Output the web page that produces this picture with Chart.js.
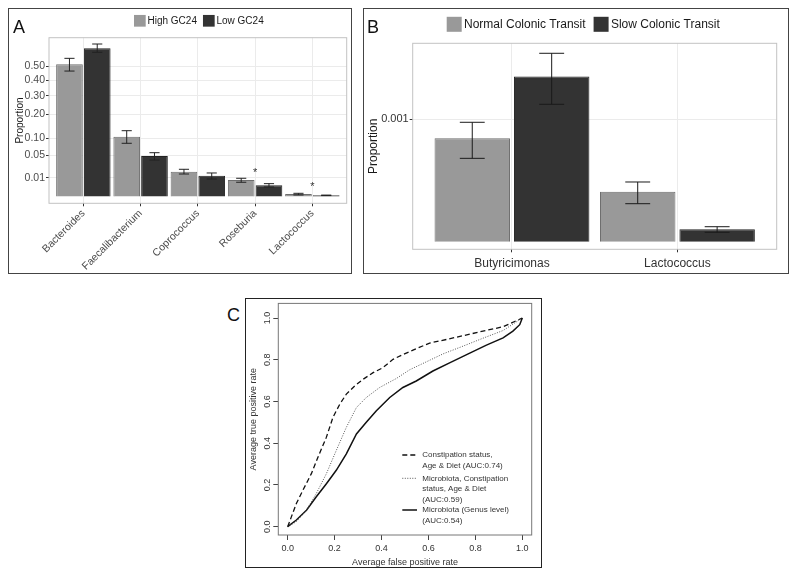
<!DOCTYPE html>
<html>
<head>
<meta charset="utf-8">
<script src="https://cdn.jsdelivr.net/npm/chart.js@4.4.1/dist/chart.umd.min.js"></script>
<style>
  body { margin: 0; background: #fff; width: 800px; height: 576px; position: relative; overflow: hidden; font-family: "Liberation Sans", Arial, sans-serif; }
  .panel { position: absolute; }
  .tag { position: absolute; font-size: 18px; line-height: 1; color: #111; }
</style>
</head>
<body>
<div class="panel" style="left:8px;top:8px;width:344px;height:266px"><canvas id="chartA"></canvas></div>
<div class="panel" style="left:363px;top:8px;width:426px;height:266px"><canvas id="chartB"></canvas></div>
<div class="panel" style="left:245px;top:298px;width:297px;height:270px"><canvas id="chartC"></canvas></div>
<div class="tag" style="left:13px;top:18px">A</div>
<div class="tag" style="left:367px;top:18px">B</div>
<div class="tag" style="left:227px;top:306px">C</div>
<script>
// Panel A - GC24 groups (sqrt y axis)
const generaA = ['Bacteroides', 'Faecalibacterium', 'Coprococcus', 'Roseburia', 'Lactococcus'];
const highGC = [0.515, 0.105, 0.018, 0.0079, 0.00017];
const highGCLo = [0.464, 0.0833, 0.0148, 0.0059, 0.00006];
const highGCHi = [0.563, 0.1275, 0.0217, 0.0097, 0.00028];
const lowGC = [0.648, 0.0482, 0.0127, 0.0036, 0.000036];
const lowGCLo = [0.613, 0.039, 0.0089, 0.0026, 0.00002];
const lowGCHi = [0.686, 0.0564, 0.0162, 0.0048, 0.00005];
const starsA = [null, null, null, 0.0186, 0.0038];
const ticksA = [0.01, 0.05, 0.10, 0.20, 0.30, 0.40, 0.50];

// Panel B - colonic transit
const generaB = ['Butyricimonas', 'Lactococcus'];
const normalCT = [0.000714, 0.000167];
const normalCTLo = [0.000464, 0.0000964];
const normalCTHi = [0.000952, 0.000238];
const slowCT = [0.00182, 0.0000103];
const slowCTLo = [0.00126, 0.0000059];
const slowCTHi = [0.00237, 0.000015];
const ticksB = [0.001];

// Panel C - ROC curves
const fprDiet = [0, 0.016, 0.037, 0.065, 0.101, 0.129, 0.165, 0.193, 0.222, 0.250, 0.286, 0.321, 0.364, 0.406, 0.449, 0.491, 0.548, 0.605, 0.676, 0.747, 0.832, 0.918, 1];
const tprDiet = [0, 0.048, 0.111, 0.175, 0.254, 0.333, 0.429, 0.524, 0.587, 0.635, 0.675, 0.706, 0.738, 0.762, 0.802, 0.825, 0.853, 0.88, 0.897, 0.915, 0.937, 0.958, 1];
const fprMix = [0, 0.037, 0.080, 0.122, 0.165, 0.207, 0.250, 0.293, 0.335, 0.392, 0.463, 0.520, 0.591, 0.662, 0.747, 0.832, 0.918, 1];
const tprMix = [0, 0.024, 0.079, 0.159, 0.254, 0.365, 0.476, 0.571, 0.619, 0.667, 0.71, 0.752, 0.79, 0.828, 0.865, 0.903, 0.94, 1];
const fprGenus = [0, 0.037, 0.080, 0.122, 0.165, 0.207, 0.250, 0.293, 0.335, 0.378, 0.435, 0.491, 0.548, 0.619, 0.690, 0.776, 0.847, 0.918, 0.960, 0.989, 1];
const tprGenus = [0, 0.032, 0.079, 0.143, 0.206, 0.270, 0.349, 0.444, 0.5, 0.556, 0.619, 0.667, 0.698, 0.746, 0.785, 0.832, 0.87, 0.905, 0.937, 0.968, 1];
const rocTicks = [0, 0.2, 0.4, 0.6, 0.8, 1.0];

Chart.defaults.font.family = '"Liberation Sans", Arial, sans-serif';
Chart.defaults.animation = false;

// square-root axis like ggplot's scale_y_sqrt
const ssqrt = v => Math.sign(v) * Math.sqrt(Math.abs(v));
class SqrtScale extends Chart.LinearScale {
  configure() {
    super.configure();
    this._startValue = ssqrt(this.min);
    this._valueRange = ssqrt(this.max) - ssqrt(this.min);
  }
  getPixelForValue(v) {
    if (v === null || v === undefined) return NaN;
    return this.getPixelForDecimal((ssqrt(v) - this._startValue) / this._valueRange);
  }
  getValueForPixel(p) {
    const t = this._startValue + this.getDecimalForPixel(p) * this._valueRange;
    return Math.sign(t) * t * t;
  }
}
SqrtScale.id = 'sqrt';
SqrtScale.defaults = Chart.LinearScale.defaults;
Chart.register(SqrtScale);

const toPoints = (xs, ys) => xs.map((x, i) => ({x: x, y: ys[i]}));

// outer box + panel border
const frame = {
  id: 'frame',
  afterDraw(chart, args, o) {
    const {ctx, chartArea: a, width, height} = chart;
    ctx.save();
    ctx.lineWidth = 1;
    ctx.strokeStyle = o.outer;
    ctx.strokeRect(0.5, 0.5, width - 1, height - 1);
    ctx.strokeStyle = o.panel;
    ctx.strokeRect(a.left, a.top, a.right - a.left, a.bottom - a.top);
    ctx.restore();
  }
};

// ggplot style legend on top
const boxLegend = {
  id: 'boxLegend',
  afterDraw(chart, args, o) {
    const ctx = chart.ctx;
    ctx.save();
    ctx.font = o.size + 'px "Liberation Sans", Arial, sans-serif';
    ctx.textBaseline = 'middle';
    ctx.textAlign = 'left';
    let x = o.x;
    chart.data.datasets.forEach(ds => {
      ctx.fillStyle = ds.backgroundColor;
      ctx.fillRect(x, o.y - o.box / 2, o.box, o.box);
      ctx.fillStyle = '#1a1a1a';
      ctx.fillText(ds.label, x + o.box + o.gap, o.y);
      x += o.box + o.gap + ctx.measureText(ds.label).width + o.space;
    });
    ctx.restore();
  }
};

// error bars from dataset.errLo / errHi
const errorBars = {
  id: 'errorBars',
  afterDatasetsDraw(chart, args, o) {
    const ctx = chart.ctx;
    const y = chart.scales.y;
    ctx.save();
    ctx.strokeStyle = o.color;
    ctx.lineWidth = 1;
    chart.data.datasets.forEach((ds, di) => {
      const meta = chart.getDatasetMeta(di);
      meta.data.forEach((bar, i) => {
        const yl = y.getPixelForValue(ds.errLo[i]);
        const yh = y.getPixelForValue(ds.errHi[i]);
        const hw = bar.width * o.cap / 2;
        ctx.beginPath();
        ctx.moveTo(bar.x, yl); ctx.lineTo(bar.x, yh);
        ctx.moveTo(bar.x - hw, yl); ctx.lineTo(bar.x + hw, yl);
        ctx.moveTo(bar.x - hw, yh); ctx.lineTo(bar.x + hw, yh);
        ctx.stroke();
      });
    });
    ctx.restore();
  }
};

// significance stars
const stars = {
  id: 'stars',
  afterDatasetsDraw(chart, args, o) {
    if (!o.values) return;
    const ctx = chart.ctx;
    ctx.save();
    ctx.font = '11px "Liberation Sans", Arial, sans-serif';
    ctx.fillStyle = '#333';
    ctx.textAlign = 'center';
    ctx.textBaseline = 'middle';
    o.values.forEach((v, i) => {
      if (v === null) return;
      ctx.fillText('*', chart.scales.x.getPixelForValue(i), chart.scales.y.getPixelForValue(v) + 2);
    });
    ctx.restore();
  }
};

// R style legend for the ROC panel
const rocLegend = {
  id: 'rocLegend',
  afterDraw(chart, args, o) {
    const ctx = chart.ctx;
    ctx.save();
    ctx.font = '8px "Liberation Sans", Arial, sans-serif';
    ctx.textBaseline = 'middle';
    ctx.textAlign = 'left';
    chart.data.datasets.forEach((ds, i) => {
      const y0 = o.rows[i];
      ctx.strokeStyle = ds.borderColor;
      ctx.lineWidth = ds.borderWidth;
      ctx.setLineDash(ds.borderDash || []);
      ctx.beginPath();
      ctx.moveTo(o.x0, y0); ctx.lineTo(o.x1, y0);
      ctx.stroke();
      ctx.fillStyle = '#333';
      ds.label.split('\n').forEach((line, k) => ctx.fillText(line, o.tx, y0 + k * o.lh));
    });
    ctx.restore();
  }
};

const gg = {
  grid: {color: '#ebebeb', tickColor: '#333', tickLength: 3, lineWidth: 1},
  border: {display: false}
};

new Chart(document.getElementById('chartA'), {
  type: 'bar',
  data: {
    datasets: [
      {label: 'High GC24', data: toPoints(generaA.map((_, i) => i), highGC), backgroundColor: '#999999', borderColor: '#6e6e6e', borderWidth: 1, errLo: highGCLo, errHi: highGCHi},
      {label: 'Low GC24', data: toPoints(generaA.map((_, i) => i), lowGC), backgroundColor: '#333333', borderColor: '#222222', borderWidth: 1, errLo: lowGCLo, errHi: lowGCHi}
    ]
  },
  options: {
    responsive: true, maintainAspectRatio: false,
    layout: {padding: {left: 0, right: 5.3, top: 29.7, bottom: 0}},
    datasets: {bar: {categoryPercentage: 0.97, barPercentage: 0.96}},
    scales: {
      x: {
        type: 'linear', min: -0.6, max: 4.6, offset: false,
        afterBuildTicks: s => { s.ticks = generaA.map((_, i) => ({value: i})); },
        afterFit: s => { s.height = 70.7; },
        ticks: {callback: v => generaA[v], minRotation: 45, maxRotation: 45, autoSkip: false, color: '#4d4d4d', font: {size: 10.5}, padding: 1},
        grid: {...gg.grid, offset: false}, border: gg.border
      },
      y: {
        type: 'sqrt', min: -0.00141, max: 0.7439, bounds: 'data',
        afterBuildTicks: s => { s.ticks = ticksA.map(v => ({value: v})); },
        afterFit: s => { s.width = 41; },
        ticks: {callback: v => v.toFixed(2), color: '#4d4d4d', font: {size: 10.5}, padding: 1},
        title: {display: true, text: 'Proportion', color: '#1a1a1a', font: {size: 10}, padding: {top: 6.5, bottom: 0}},
        grid: gg.grid, border: gg.border
      }
    },
    plugins: {
      legend: {display: false}, tooltip: {enabled: false},
      frame: {outer: '#444', panel: '#c2c2c2'},
      boxLegend: {x: 126, y: 12.8, box: 11.7, gap: 1.8, space: 6, size: 10},
      errorBars: {color: '#222', cap: 0.38},
      stars: {values: starsA}
    }
  },
  plugins: [frame, boxLegend, errorBars, stars]
});

new Chart(document.getElementById('chartB'), {
  type: 'bar',
  data: {
    datasets: [
      {label: 'Normal Colonic Transit', data: toPoints(generaB.map((_, i) => i), normalCT), backgroundColor: '#999999', borderColor: '#6e6e6e', borderWidth: 1, errLo: normalCTLo, errHi: normalCTHi},
      {label: 'Slow Colonic Transit', data: toPoints(generaB.map((_, i) => i), slowCT), backgroundColor: '#333333', borderColor: '#222222', borderWidth: 1, errLo: slowCTLo, errHi: slowCTHi}
    ]
  },
  options: {
    responsive: true, maintainAspectRatio: false,
    layout: {padding: {left: 0, right: 12.3, top: 35.3, bottom: 0}},
    datasets: {bar: {categoryPercentage: 0.96, barPercentage: 0.95}},
    scales: {
      x: {
        type: 'linear', min: -0.6, max: 1.6, offset: false,
        afterBuildTicks: s => { s.ticks = generaB.map((_, i) => ({value: i})); },
        afterFit: s => { s.height = 24.7; },
        ticks: {callback: v => generaB[v], maxRotation: 0, autoSkip: false, color: '#333', font: {size: 12}, padding: 4},
        grid: {...gg.grid, offset: false}, border: gg.border
      },
      y: {
        type: 'sqrt', min: -0.00000386, max: 0.002628, bounds: 'data',
        afterBuildTicks: s => { s.ticks = ticksB.map(v => ({value: v})); },
        afterFit: s => { s.width = 49.7; },
        ticks: {callback: v => String(v), color: '#333', font: {size: 11}, padding: 1},
        title: {display: true, text: 'Proportion', color: '#1a1a1a', font: {size: 12}, padding: {top: 3.8, bottom: 0}},
        grid: gg.grid, border: gg.border
      }
    },
    plugins: {
      legend: {display: false}, tooltip: {enabled: false},
      frame: {outer: '#444', panel: '#c2c2c2'},
      boxLegend: {x: 83.7, y: 16.3, box: 15, gap: 2.3, space: 8, size: 12},
      errorBars: {color: '#1a1a1a', cap: 0.33}
    }
  },
  plugins: [frame, boxLegend, errorBars]
});

new Chart(document.getElementById('chartC'), {
  type: 'line',
  data: {
    datasets: [
      {label: 'Constipation status,\nAge & Diet (AUC:0.74)', data: toPoints(fprDiet, tprDiet), borderColor: '#111', borderWidth: 1.3, borderDash: [5, 3]},
      {label: 'Microbiota, Constipation\nstatus, Age & Diet\n(AUC:0.59)', data: toPoints(fprMix, tprMix), borderColor: '#555', borderWidth: 1, borderDash: [1, 1.5]},
      {label: 'Microbiota (Genus level)\n(AUC:0.54)', data: toPoints(fprGenus, tprGenus), borderColor: '#111', borderWidth: 1.5}
    ]
  },
  options: {
    responsive: true, maintainAspectRatio: false,
    layout: {padding: {left: 0, right: 10.3, top: 3.7, bottom: 0}},
    elements: {point: {radius: 0}, line: {tension: 0}},
    scales: {
      x: {
        type: 'linear', min: -0.04, max: 1.04, bounds: 'data',
        afterBuildTicks: s => { s.ticks = rocTicks.map(v => ({value: v})); },
        afterFit: s => { s.height = 33; },
        ticks: {callback: v => v.toFixed(1), maxRotation: 0, color: '#333', font: {size: 9}, padding: 3},
        title: {display: true, text: 'Average false positive rate', color: '#333', font: {size: 9}, padding: {top: 3.3, bottom: 0}},
        grid: {drawOnChartArea: false, tickColor: '#444', tickLength: 5}, border: {display: false}
      },
      y: {
        type: 'linear', min: -0.04, max: 1.07, bounds: 'data',
        afterBuildTicks: s => { s.ticks = rocTicks.map(v => ({value: v})); },
        afterFit: s => { s.width = 33.3; },
        ticks: {callback: v => v.toFixed(1), minRotation: 90, maxRotation: 90, crossAlign: 'center', color: '#333', font: {size: 9}, padding: 0},
        title: {display: true, text: 'Average true positive rate', color: '#333', font: {size: 9}, padding: {top: 2.9, bottom: 0}},
        grid: {drawOnChartArea: false, tickColor: '#444', tickLength: 5}, border: {display: false}
      }
    },
    plugins: {
      legend: {display: false}, tooltip: {enabled: false},
      frame: {outer: '#222', panel: '#777'},
      rocLegend: {x0: 157.3, x1: 172, tx: 177.3, rows: [157, 180.3, 212], lh: 10.6}
    }
  },
  plugins: [frame, rocLegend]
});
</script>
</body>
</html>
